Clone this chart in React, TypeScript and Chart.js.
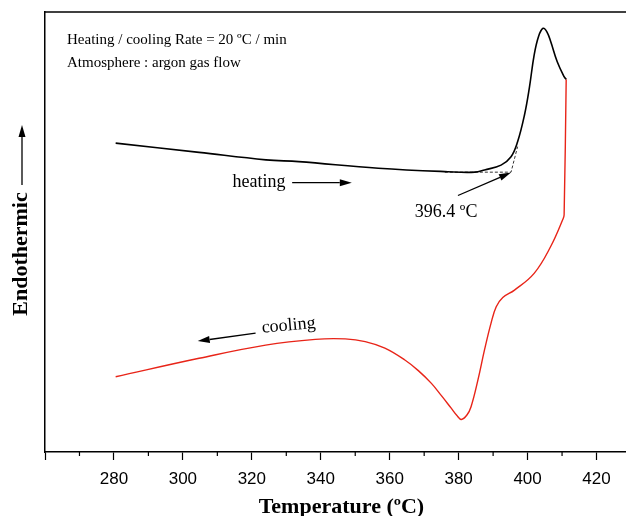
import React, { useEffect, useRef } from 'react';
import { Chart, registerables } from 'chart.js';

Chart.register(...registerables);

// Heating (black) DSC trace: temperature (°C) and signal (arb. units)
const heatingTemp = [280.5, 304.7, 324.1, 333.6, 356.7, 376.9, 384.7, 387.5, 392.3, 395.2, 397.1, 399.1, 400.5, 401.9, 403.2, 404.5, 405.6, 406.7, 408.6, 410.6, 411.2];
const heatingSignal = [70.2, 68.1, 66.4, 66.0, 64.5, 63.7, 63.6, 64.1, 65.2, 67.1, 70.5, 76.6, 82.7, 90.2, 94.5, 96.3, 95.5, 93.3, 88.7, 85.3, 84.7];

// Cooling (red) DSC trace
const coolingTemp = [280.5, 304.7, 324.0, 338.4, 347.1, 352.9, 358.6, 364.4, 368.3, 372.1, 375.0, 377.9, 379.5, 380.8, 382.4, 383.6, 385.6, 387.5, 389.4, 390.9, 392.8, 396.2, 401.9, 406.7, 410.3, 410.6, 411.2];
const coolingSignal = [17.1, 21.3, 24.3, 25.6, 25.7, 25.1, 23.6, 20.9, 18.5, 15.6, 12.8, 9.9, 8.3, 7.4, 8.4, 10.3, 16.4, 23.2, 29.3, 33.0, 35.1, 36.8, 40.6, 46.7, 53.0, 53.9, 84.7];

// Onset construction (dashed): extrapolated baseline and tangent
const onsetTemp = [376.0, 395.2, 397.1];
const onsetSignal = [63.6, 63.6, 69.4];

const xMin = 260;
const xMax = 432;
const xStep = 10;

const serif = '"Liberation Serif", "Times New Roman", serif';
const sans = '"Liberation Sans", Arial, sans-serif';

function drawArrow(ctx: CanvasRenderingContext2D, x1: number, y1: number, x2: number, y2: number, head = 12, half = 4) {
  const ang = Math.atan2(y2 - y1, x2 - x1);
  const bx = x2 - head * Math.cos(ang);
  const by = y2 - head * Math.sin(ang);
  ctx.beginPath();
  ctx.moveTo(x1, y1);
  ctx.lineTo(bx, by);
  ctx.stroke();
  ctx.beginPath();
  ctx.moveTo(x2, y2);
  ctx.lineTo(bx + half * Math.sin(ang), by - half * Math.cos(ang));
  ctx.lineTo(bx - half * Math.sin(ang), by + half * Math.cos(ang));
  ctx.closePath();
  ctx.fill();
}

const decorPlugin = {
  id: 'decor',
  afterDraw(chart: any) {
    const { ctx, chartArea } = chart;
    const x = chart.scales.x;
    const y = chart.scales.y;
    const px = (v: number) => x.getPixelForValue(v);
    const py = (v: number) => y.getPixelForValue(v);
    ctx.save();
    ctx.strokeStyle = '#000';
    ctx.fillStyle = '#000';

    // top frame line
    ctx.lineWidth = 1.5;
    ctx.beginPath();
    ctx.moveTo(chartArea.left, chartArea.top);
    ctx.lineTo(chartArea.right, chartArea.top);
    ctx.stroke();

    // minor ticks
    ctx.lineWidth = 1.2;
    x.ticks.forEach((t: any) => {
      if (t.value % 20 !== 0) {
        const p = px(t.value);
        ctx.beginPath();
        ctx.moveTo(p, chartArea.bottom);
        ctx.lineTo(p, chartArea.bottom + 4);
        ctx.stroke();
      }
    });

    // info text
    ctx.font = `15px ${serif}`;
    ctx.textAlign = 'left';
    ctx.textBaseline = 'alphabetic';
    ctx.fillText('Heating / cooling Rate = 20 ºC / min', chartArea.left + 22, chartArea.top + 31.5);
    ctx.fillText('Atmosphere : argon gas flow', chartArea.left + 22, chartArea.top + 55);

    // curve annotations
    ctx.font = `18px ${serif}`;
    ctx.lineWidth = 1.3;
    ctx.fillText('heating', px(314.4), py(60.3));
    drawArrow(ctx, px(331.7), py(61.2), px(349.0), py(61.2), 12, 3.5);

    ctx.fillText('396.4 ºC', px(367.3), py(53.5));
    drawArrow(ctx, px(379.8), py(58.3), px(395.2), py(63.5), 12, 3.5);

    ctx.save();
    ctx.translate(px(323.0), py(27.1));
    ctx.rotate(-5 * Math.PI / 180);
    ctx.fillText('cooling', 0, 0);
    ctx.restore();
    drawArrow(ctx, px(321.1), py(27.0), px(304.3), py(25.2), 12, 3.5);

    // y axis title with arrow
    ctx.save();
    ctx.font = `bold 22px ${serif}`;
    ctx.translate(26.7, 254);
    ctx.rotate(-Math.PI / 2);
    ctx.textAlign = 'center';
    ctx.fillText('Endothermic', 0, 0);
    ctx.restore();
    ctx.lineWidth = 1.3;
    drawArrow(ctx, 22, 185, 22, 125, 12, 3.5);

    ctx.restore();
  },
};

export default function App() {
  const canvasRef = useRef<HTMLCanvasElement | null>(null);

  useEffect(() => {
    const canvas = canvasRef.current;
    if (!canvas) return;
    const chart = new Chart(canvas, {
      type: 'line',
      data: {
        datasets: [
          {
            label: 'heating',
            data: heatingTemp.map((t, i) => ({ x: t, y: heatingSignal[i] })),
            borderColor: '#000000',
            borderWidth: 1.6,
            pointRadius: 0,
            fill: false,
            tension: 0.4,
          },
          {
            label: 'cooling',
            data: coolingTemp.map((t, i) => ({ x: t, y: coolingSignal[i] })),
            borderColor: 'rgb(232, 36, 24)',
            borderWidth: 1.4,
            pointRadius: 0,
            fill: false,
            tension: 0.4,
          },
          {
            label: 'onset',
            data: onsetTemp.map((t, i) => ({ x: t, y: onsetSignal[i] })),
            borderColor: '#333333',
            borderWidth: 1,
            borderDash: [3, 2],
            pointRadius: 0,
            fill: false,
            tension: 0,
          },
        ],
      },
      options: {
        animation: false,
        responsive: false,
        devicePixelRatio: 1,
        layout: { padding: { top: 12, left: 0, right: 0, bottom: 0 } },
        plugins: {
          legend: { display: false },
          tooltip: { enabled: false },
        },
        scales: {
          x: {
            type: 'linear',
            min: xMin,
            max: xMax,
            afterFit: (scale: any) => { scale.height = 64; },
            border: { display: true, color: '#000', width: 1.5 },
            grid: {
              display: true,
              drawOnChartArea: false,
              drawTicks: true,
              tickLength: 8,
              tickWidth: 1.2,
              tickColor: (c: any) => (c.tick && c.tick.value % 20 === 0 ? '#000' : 'rgba(0,0,0,0)'),
            },
            ticks: {
              stepSize: xStep,
              includeBounds: false,
              autoSkip: false,
              maxRotation: 0,
              minRotation: 0,
              padding: 9,
              color: '#000',
              font: { family: sans, size: 17 },
              callback: (v: any) => (Number(v) % 20 === 0 && Number(v) > xMin ? String(v) : ''),
            },
            title: {
              display: true,
              text: 'Temperature (ºC)',
              color: '#000',
              font: { family: serif, size: 22, weight: 'bold', lineHeight: 1 },
              padding: { top: 0, bottom: -2 },
            },
          },
          y: {
            type: 'linear',
            min: 0,
            max: 100,
            afterFit: (scale: any) => { scale.width = 45; },
            border: { display: true, color: '#000', width: 1.5 },
            grid: { display: false },
            ticks: { display: false },
          },
        },
      },
      plugins: [decorPlugin],
    } as any);
    return () => chart.destroy();
  }, []);

  return (
    <div style={{ position: 'absolute', left: 0, top: 0, width: 626, height: 516, overflow: 'hidden', background: '#fff' }}>
      <canvas ref={canvasRef} width={640} height={516} style={{ display: 'block' }} />
    </div>
  );
}
